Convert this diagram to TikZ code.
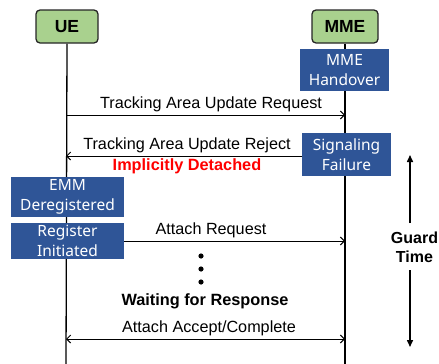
\documentclass[tikz,border=0pt]{standalone}
\usepackage{fontspec}
\setmainfont{Liberation Sans}
\newfontfamily\boxfont{Noto Sans}
\usetikzlibrary{arrows.meta,backgrounds}
\definecolor{actgreen}{HTML}{A9D18E}
\definecolor{boxblue}{HTML}{2F5597}
\definecolor{alertred}{HTML}{FF0000}
\begin{document}
\begin{tikzpicture}[x=1pt,y=-1pt,
  actor/.style={draw=black!85, line width=1.3pt, fill=actgreen, rounded corners=4pt,
    minimum width=62pt, minimum height=33pt, inner sep=0pt,
    font=\fontsize{17.5}{20}\selectfont\bfseries},
  state/.style={fill=boxblue, text=white, align=center, inner sep=0pt,
    font=\boxfont\fontsize{15.5}{19.5}\selectfont},
  life/.style={line width=1.3pt, black},
  msg/.style={line width=1pt, -{Straight Barb[length=4pt,width=8pt]}},
  msgboth/.style={line width=1pt, {Straight Barb[length=4pt,width=8pt]}-{Straight Barb[length=4pt,width=8pt]}},
  guard/.style={line width=1.5pt, -{Triangle[length=7pt,width=6pt]}},
  lbl/.style={inner sep=0pt, font=\fontsize{16.2}{18}\selectfont},
  bold/.style={inner sep=0pt, font=\fontsize{16.3}{19}\selectfont\bfseries}
]
\useasboundingbox (0,0) rectangle (439,364);

% actors
\node[actor] (ue) at (67,26.5) {UE};
\node[actor, minimum width=66pt] (mme) at (345,26.5) {MME};
\coordinate (ueend) at (66,364);
\coordinate (mmeend) at (345,364);

% state boxes
\node[state, minimum width=89pt, minimum height=42pt] (mmeho) at (344.5,70) {MME\\Handover};
\node[state, minimum width=89pt, minimum height=43pt] (sigfail) at (346.5,154.5) {Signaling\\Failure};
\node[state, minimum width=113pt, minimum height=40pt] (emm) at (67.5,197) {EMM\\Deregistered};
\node[state, minimum width=113pt, minimum height=36pt] (reg) at (67.5,241) {Register\\Initiated};

% lifelines
\begin{scope}[on background layer]
  \draw[life] (ue.south) -- (ueend);
  \draw[life] (mme.south) -- (mmeend);
\end{scope}

% messages
\coordinate (m1a) at (66,115);
\coordinate (m1b) at (345,115);
\draw[msg] (m1a) -- (m1b);
\node[lbl] (m1t) at (211,104) {Tracking Area Update Request};

\coordinate (m2b) at (66,156);
\draw[msg] (sigfail.west |- m2b) -- (m2b);
\node[lbl] (m2t) at (187,145.5) {Tracking Area Update Reject};
\node[bold, text=alertred] (detached) at (187,166) {Implicitly Detached};

\coordinate (m3b) at (345,241);
\draw[msg] (reg.east) -- (m3b);
\node[lbl] (m3t) at (211,230) {Attach Request};

\fill (201,256) circle (2.6pt);
\fill (201,269) circle (2.6pt);
\fill (201,282) circle (2.6pt);
\node[bold] (wait) at (205,301) {Waiting for Response};

\coordinate (m4a) at (66,339);
\coordinate (m4b) at (345,339);
\draw[msgboth] (m4a) -- (m4b);
\node[lbl] (m4t) at (209,328) {Attach Accept/Complete};

% guard time
\node[bold, align=center, font=\fontsize{16}{19.5}\selectfont\bfseries] (gt) at (414.5,247.5) {Guard\\Time};
\coordinate (gtop) at (410,155);
\coordinate (gbot) at (410,347);
\draw[guard] (410,223) -- (gtop);
\draw[guard] (410,270) -- (gbot);
\end{tikzpicture}
\end{document}
